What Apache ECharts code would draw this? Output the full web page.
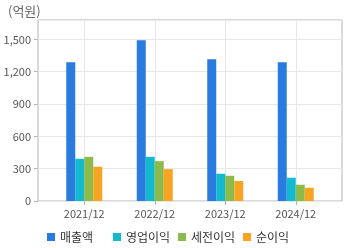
<!DOCTYPE html>
<html>
<head>
<meta charset="utf-8">
<script src="https://cdn.jsdelivr.net/npm/echarts@6/dist/echarts.min.js"></script>
<style>html,body{margin:0;padding:0;background:#fff}#c{width:360px;height:248px}</style>
</head>
<body>
<div id="c"></div>
<script>
var categories = ['2021/12', '2022/12', '2023/12', '2024/12'];
var seriesNames = ['매출액', '영업이익', '세전이익', '순이익'];
var sales = [1287, 1491, 1315, 1287];
var operatingProfit = [392, 410, 253, 216];
var preTaxProfit = [410, 370, 234, 151];
var netProfit = [318, 296, 185, 123];
var unitLabel = '(억원)';
var colors = ['#2a7be0', '#12b9cf', '#8cbb4b', '#f8a422'];

var fontFam = '"Noto Sans CJK KR", "Noto Sans", sans-serif';
var values = [sales, operatingProfit, preTaxProfit, netProfit];
var legendLefts = [42, 108, 173, 238];

var chart = echarts.init(document.getElementById('c'), null, {renderer: 'canvas'});
chart.setOption({
  animation: false,
  color: colors,
  title: {
    text: unitLabel, left: 3, top: 0,
    textStyle: {fontSize: 13, fontWeight: 'normal', color: '#666', fontFamily: fontFam}
  },
  legend: seriesNames.map(function (n, i) {
    return {
      left: legendLefts[i], top: 226, icon: 'rect', itemWidth: 8, itemHeight: 8,
      data: [n],
      textStyle: {fontSize: 12, color: '#333', fontFamily: fontFam}
    };
  }),
  grid: [
    {left: 38, right: 18, top: 20, bottom: 47, show: true, borderColor: '#b4b4b4', borderWidth: 1},
    {left: 49, right: 29, top: 20, bottom: 47}
  ],
  xAxis: [
    {gridIndex: 0, type: 'value', min: 0, max: 1, show: false},
    {
      gridIndex: 1, type: 'category', data: categories,
      axisLine: {show: false},
      axisTick: {show: true, alignWithLabel: true, length: 4, lineStyle: {color: '#b4b4b4'}},
      splitLine: {show: true, alignWithLabel: true, lineStyle: {color: '#e8e8e8'}},
      axisLabel: {color: '#555', fontSize: 11, margin: 7, fontFamily: fontFam}
    }
  ],
  yAxis: [
    {
      gridIndex: 0, type: 'value', min: 0, max: 1680, interval: 300,
      axisLine: {show: false},
      axisTick: {show: true, length: 4, lineStyle: {color: '#b4b4b4'}},
      splitLine: {show: true, lineStyle: {color: '#e8e8e8'}},
      axisLabel: {
        color: '#555', fontSize: 11, margin: 7, fontFamily: fontFam, showMaxLabel: false,
        formatter: function (v) { return v.toLocaleString('en-US'); }
      }
    },
    {gridIndex: 1, type: 'value', min: 0, max: 1680, show: false}
  ],
  series: seriesNames.map(function (n, i) {
    return {
      name: n, type: 'bar', xAxisIndex: 1, yAxisIndex: 1,
      data: values[i], barWidth: 9, barGap: '0%'
    };
  })
});
</script>
</body>
</html>
